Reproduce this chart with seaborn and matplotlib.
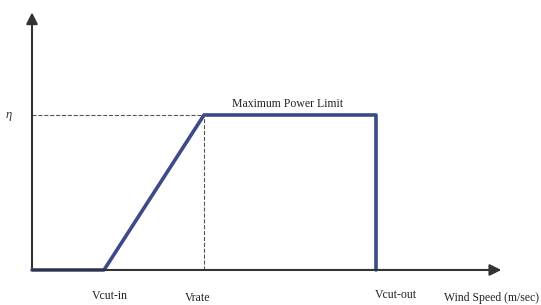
import numpy as np
import pandas as pd
import matplotlib
matplotlib.use('Agg')
import matplotlib.pyplot as plt
import seaborn as sns

# Power curve of a wind turbine (schematic)
wind_speed = [0.0, 3.6, 8.6, 17.2, 17.2]
power = [0.0, 0.0, 1.0, 1.0, 0.0]
tick_pos = [3.6, 8.6, 17.2]
tick_labels = ['Vcut-in', 'Vrate', 'Vcut-out']

sns.set_style('white')
plt.rcParams['font.family'] = ['Liberation Serif', 'DejaVu Serif']

fig = plt.figure(figsize=(5.41, 3.05), dpi=100)
ax = fig.add_axes([0, 0, 1, 1])
ax.set_xlim(-1.6, 25.45)
ax.set_ylim(-0.226, 1.742)
ax.axis('off')

curve = pd.DataFrame({'wind': wind_speed, 'power': power})
sns.lineplot(data=curve, x='wind', y='power', sort=False, estimator=None, errorbar=None,
             color='#3d4a8a', linewidth=2.6, ax=ax)

# axes with arrows
ax.annotate('', xy=(23.6, 0), xytext=(-0.1, 0),
            arrowprops=dict(arrowstyle='-|>', color='#333333', lw=1.5, mutation_scale=17))
ax.annotate('', xy=(0, 1.68), xytext=(0, -0.005),
            arrowprops=dict(arrowstyle='-|>', color='#333333', lw=1.5, mutation_scale=17))

# dashed guides at rated point
ax.plot([0, tick_pos[1]], [1, 1], ls='--', color='#555555', lw=0.8)
ax.plot([tick_pos[1], tick_pos[1]], [0, 1], ls='--', color='#555555', lw=0.8)

offsets = [0.3, -0.3, 1.0]
for xp, lab, dx, dy in zip(tick_pos, tick_labels, offsets, [-0.17, -0.18, -0.16]):
    ax.text(xp + dx, dy, lab, ha='center', va='center', fontsize=8.5, color='#222222')
ax.text(23.0, -0.18, 'Wind Speed (m/sec)', ha='center', va='center', fontsize=8.5, color='#222222')
ax.text(12.8, 1.07, 'Maximum Power Limit', ha='center', va='center', fontsize=8.5, color='#222222')
ax.text(-1.15, 1.0, 'η', ha='center', va='center', fontsize=9, style='italic', color='#333333')

fig.savefig('out.png', dpi=100)
